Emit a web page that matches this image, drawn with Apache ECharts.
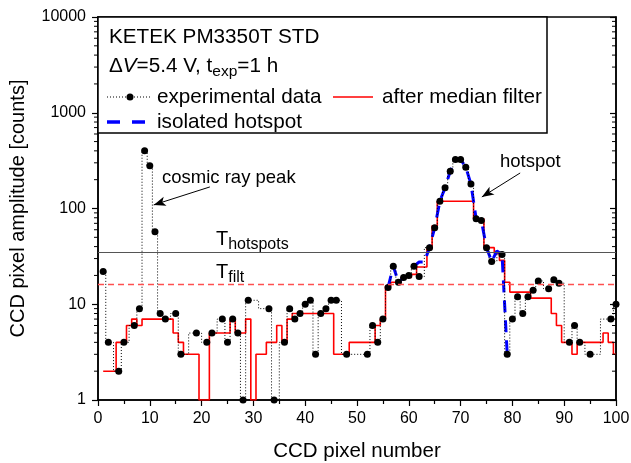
<!DOCTYPE html>
<html>
<head>
<meta charset="utf-8">
<script src="https://cdn.jsdelivr.net/npm/echarts/dist/echarts.min.js"></script>
<style>
  html, body { margin: 0; padding: 0; background: #fff; }
  #chart { width: 631px; height: 463px; }
</style>
</head>
<body>
<div id="chart"></div>
<script>
// Raw CCD line profile (pixels with a recorded sample)
const pixelNumber = [1,2,4,5,7,8,9,10,11,12,13,15,16,19,21,22,24,25,26,27,28,29,33,34,36,37,38,39,40,41,42,43,44,45,46,48,52,53,54,55,56,57,58,59,60,61,62,64,65,66,67,68,69,70,71,72,73,74,75,76,78,79,80,81,82,83,84,85,87,88,89,91,92,93,95,99,100];
const amplitude   = [22,4,2,4,6,9,400,280,57,8,7,8,3,5,4,5,7,4,7,5,1,11,9,1,4,9,7,8,10,11,3,8,9,11,11,3,3,6,4,7,15,25,17,19,20,25,19.5,39,63,119,165,245,325,325,270,180,78,75,39,28,33,3,7,12,8,12,14,17.5,14.5,18,16.6,4,6,4,3,7,10];

// Median-filtered profile, pixels 1..100
const filteredPixel = Array.from({ length: 100 }, (_, i) => i + 1);
const filteredAmplitude = [
  2,2,2,4,4,6,7,6,7,7,
  7,7,7,7,5,4,3,3,3,1,
  1,5,5,5,5,7,5,5,7,1,
  3,3,4,4,6,4,7,8,8,8,
  8,8,8,8,8,3,3,3,4,4,
  4,4,4,6,7,15.5,17,17,19,19,
  20.5,24.5,24.5,38,66,119,119,119,119,119,
  119,119,78,78,39,39,34,28.7,17,13.4,
  13.4,13.4,13.4,11.6,11.6,11.6,11.6,8,6,4,
  4,3,4,4,4,4,4,5,4,3
];

// Isolated hotspot
const hotspotPixel = [56,57,58,59,60,61,62,63,64,65,66,67,68,69,70,71,72,73,74,75,76,77,78,79];
const hotspotAmplitude = [15,25,17,19,20,25,27.6,27.6,39,63,119,165,245,325,325,270,180,78,75,39,28,36,33,3];

// Thresholds
const T_HOTSPOTS = 35;
const T_FILT = 16;

// Axis ranges and ticks
const xRange = [0, 100];
const xStep = 10;
const yRange = [1, 10000];
const yMinorTicks = [];
for (let d = 1; d < 10000; d *= 10) for (let k = 2; k <= 9; k++) yMinorTicks.push(k * d);

const FONT = "'Liberation Sans', Arial, Helvetica, sans-serif";
const zip = (xs, ys) => xs.map((x, i) => [x, ys[i]]);

const chart = echarts.init(document.getElementById('chart'), null, { renderer: 'canvas' });

const axisBlack = { color: '#000', width: 1.5 };

const option = {
  animation: false,
  backgroundColor: '#fff',
  textStyle: { fontFamily: FONT, color: '#000' },
  grid: { left: 98, right: 15, top: 17, bottom: 63, containLabel: false, outerBoundsMode: 'none',
          show: true, borderColor: '#000', borderWidth: 1.5, backgroundColor: 'transparent' },
  xAxis: {
    type: 'value', min: xRange[0], max: xRange[1], interval: xStep,
    name: 'CCD pixel number', nameLocation: 'middle', nameGap: 41, nameMoveOverlap: false,
    nameTextStyle: { fontSize: 20.5, color: '#000', fontFamily: FONT },
    axisLine: { show: true, onZero: false, lineStyle: axisBlack },
    axisTick: { show: true, inside: false, length: 6, lineStyle: { color: '#000', width: 1.2 } },
    minorTick: { show: true, splitNumber: 2, length: 4, lineStyle: { color: '#000', width: 1.2 } },
    axisLabel: { fontSize: 16, color: '#000', margin: 11, fontFamily: FONT },
    splitLine: { show: false }, minorSplitLine: { show: false }
  },
  yAxis: [{
    type: 'log', logBase: 10, min: yRange[0], max: yRange[1],
    name: 'CCD pixel amplitude [counts]', nameLocation: 'middle', nameGap: 70, nameMoveOverlap: false,
    nameRotate: 90,
    nameTextStyle: { fontSize: 20, color: '#000', fontFamily: FONT },
    axisLine: { show: true, lineStyle: axisBlack },
    axisTick: { show: true, inside: false, length: 6, lineStyle: { color: '#000', width: 1.2 } },
    axisLabel: { fontSize: 16, color: '#000', margin: 12, fontFamily: FONT,
                 formatter: v => String(Math.round(v)) },
    splitLine: { show: false }
  }, {
    type: 'log', logBase: 10, min: yRange[0], max: yRange[1], position: 'right',
    axisLine: { show: true, lineStyle: axisBlack },
    axisTick: { show: true, inside: true, length: 6, lineStyle: { color: '#000', width: 1.2 } },
    axisLabel: { show: false },
    splitLine: { show: false }
  }],
  series: [
    {
      // log minor ticks on both vertical edges
      type: 'custom', silent: true, clip: false, z: 5,
      data: yMinorTicks.map(v => [0, v]),
      renderItem(params, api) {
        const y = api.coord([0, api.value(1)])[1];
        const cs = params.coordSys;
        const st = { stroke: '#000', lineWidth: 1 };
        return { type: 'group', children: [
          { type: 'line', shape: { x1: cs.x - 4, y1: y, x2: cs.x, y2: y }, style: st },
          { type: 'line', shape: { x1: cs.x + cs.width - 4, y1: y, x2: cs.x + cs.width, y2: y }, style: st }
        ] };
      }
    },
    {
      name: 'after median filter', type: 'line', step: 'middle', z: 2,
      data: zip(filteredPixel, filteredAmplitude),
      showSymbol: false, symbol: 'none',
      lineStyle: { color: '#ff0000', width: 1.6 },
      markLine: {
        silent: true, animation: false, label: { show: false },
        symbol: ['none', 'none'],
        data: [
          { yAxis: T_HOTSPOTS, lineStyle: { color: '#555', width: 1.2, type: 'solid' } },
          { yAxis: T_FILT, lineStyle: { color: '#ff5050', width: 1.3, type: [6, 4] } },
          [ { coord: [21.6, 168], symbol: 'none' },
            { coord: [10.75, 109], symbol: 'arrow', symbolSize: [7, 12],
              lineStyle: { color: '#000', width: 1, type: 'solid' } } ],
          [ { coord: [81.5, 235], symbol: 'none' },
            { coord: [74.1, 132], symbol: 'arrow', symbolSize: [7, 12],
              lineStyle: { color: '#000', width: 1, type: 'solid' } } ]
        ]
      }
    },
    {
      name: 'isolated hotspot', type: 'line', z: 3,
      data: zip(hotspotPixel, hotspotAmplitude),
      showSymbol: false, symbol: 'none',
      lineStyle: { color: '#0000ff', width: 3, type: [12, 8] }
    },
    {
      name: 'experimental data', type: 'line', step: 'middle', z: 4,
      data: zip(pixelNumber, amplitude),
      symbol: 'circle', symbolSize: 7, showSymbol: true,
      itemStyle: { color: '#000' },
      lineStyle: { color: '#000', width: 1, type: [1, 2] }
    }
  ],
  graphic: [
    { type: 'rect', z: 100, shape: { x: 98, y: 17, width: 449, height: 116 },
      style: { fill: '#fff', stroke: '#000', lineWidth: 1.5 } },
    { type: 'text', z: 101, x: 109, y: 37,
      style: { text: 'KETEK PM3350T STD', font: '20.7px ' + FONT, fill: '#000', verticalAlign: 'middle' } },
    { type: 'text', z: 101, x: 109, y: 66,
      style: {
        text: '{r|Δ}{i|V}{r|=5.4 V, t}{s|exp}{r|=1 h}', verticalAlign: 'middle', fill: '#000',
        rich: {
          r: { fontSize: 20.7, fontFamily: FONT, fill: '#000' },
          i: { fontSize: 20.7, fontFamily: FONT, fontStyle: 'italic', fill: '#000' },
          s: { fontSize: 15.5, fontFamily: FONT, fill: '#000', padding: [12, 0, 0, 0] }
        }
      } },
    { type: 'line', z: 101, shape: { x1: 107, y1: 97, x2: 152, y2: 97 },
      style: { stroke: '#000', lineWidth: 1, lineDash: [1, 2] } },
    { type: 'circle', z: 102, shape: { cx: 130, cy: 97, r: 3.5 }, style: { fill: '#000' } },
    { type: 'text', z: 101, x: 157, y: 97,
      style: { text: 'experimental data', font: '20.7px ' + FONT, fill: '#000', verticalAlign: 'middle' } },
    { type: 'line', z: 101, shape: { x1: 333, y1: 97, x2: 373, y2: 97 },
      style: { stroke: '#ff0000', lineWidth: 1.6 } },
    { type: 'text', z: 101, x: 382, y: 97,
      style: { text: 'after median filter', font: '20.7px ' + FONT, fill: '#000', verticalAlign: 'middle' } },
    { type: 'line', z: 101, shape: { x1: 107, y1: 122, x2: 146, y2: 122 },
      style: { stroke: '#0000ff', lineWidth: 3.5, lineDash: [13, 12] } },
    { type: 'text', z: 101, x: 157, y: 122,
      style: { text: 'isolated hotspot', font: '20.7px ' + FONT, fill: '#000', verticalAlign: 'middle' } },
    { type: 'text', z: 101, x: 162, y: 178,
      style: { text: 'cosmic ray peak', font: '18.5px ' + FONT, fill: '#000', verticalAlign: 'middle' } },
    { type: 'text', z: 101, x: 500, y: 162,
      style: { text: 'hotspot', font: '18.5px ' + FONT, fill: '#000', verticalAlign: 'middle' } },
    { type: 'text', z: 101, x: 216, y: 239,
      style: {
        text: '{t|T}{s|hotspots}', verticalAlign: 'middle', fill: '#000',
        rich: {
          t: { fontSize: 20, fontFamily: FONT, fill: '#000' },
          s: { fontSize: 16, fontFamily: FONT, fill: '#000', padding: [12, 0, 0, 0] }
        }
      } },
    { type: 'text', z: 101, x: 216, y: 272,
      style: {
        text: '{t|T}{s|filt}', verticalAlign: 'middle', fill: '#000',
        rich: {
          t: { fontSize: 20, fontFamily: FONT, fill: '#000' },
          s: { fontSize: 16, fontFamily: FONT, fill: '#000', padding: [12, 0, 0, 0] }
        }
      } }
  ]
};

chart.setOption(option);
</script>
</body>
</html>
